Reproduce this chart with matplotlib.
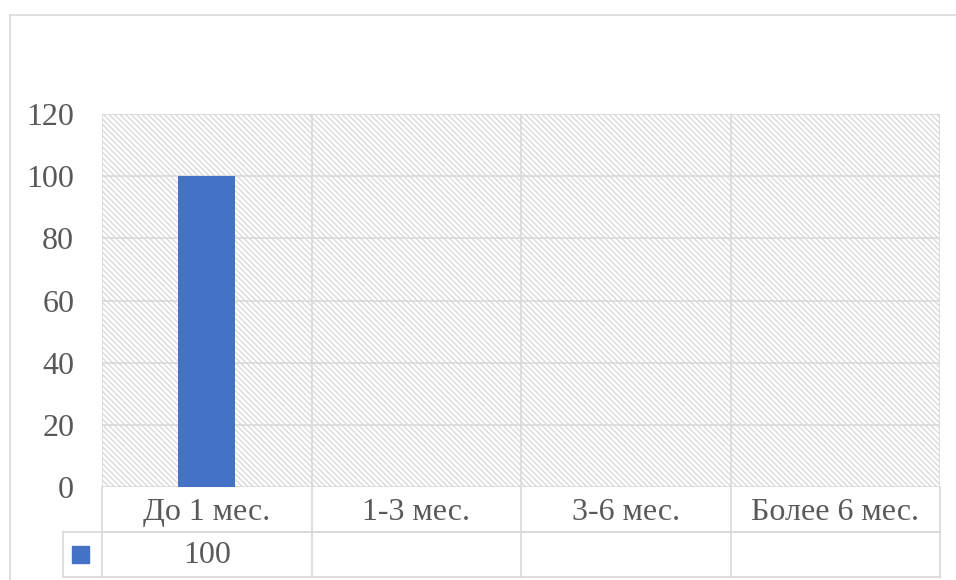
import matplotlib
matplotlib.use('Agg')
import matplotlib.pyplot as plt
from matplotlib.patches import Rectangle
from matplotlib.lines import Line2D

categories = ['До 1 мес.', '1-3 мес.', '3-6 мес.', 'Более 6 мес.']
values = [100, None, None, None]
yticks = [0, 20, 40, 60, 80, 100, 120]

W, H = 956, 580
grey = '#d9d9d9'
txt = '#595959'
blue = '#4472c4'

plt.rcParams['font.family'] = ['Liberation Serif', 'DejaVu Serif']
plt.rcParams['hatch.color'] = '#d3d3d3'
plt.rcParams['hatch.linewidth'] = 0.8

fig = plt.figure(figsize=(W / 100, H / 100), dpi=100)

# plot area in pixel coordinates (from top-left)
x0, x1 = 102, 940
ytop, ybot = 114, 487
ax = fig.add_axes([x0 / W, (H - ybot) / H, (x1 - x0) / W, (ybot - ytop) / H])

# hatched background
ax.add_patch(Rectangle((0, 0), 1, 1, transform=ax.transAxes, facecolor='white',
                       hatch='\\\\\\\\\\\\', edgecolor='#d3d3d3', lw=0, zorder=0))

n = len(categories)
pos = [i + 0.5 for i in range(n)]
hts = [v if v is not None else 0 for v in values]
ax.bar(pos, hts, width=0.27, color=blue, zorder=3)

ax.set_xlim(0, n)
ax.set_ylim(0, 120)
ax.set_yticks(yticks)
ax.set_yticklabels([str(t) for t in yticks], fontsize=23, color=txt)
ax.tick_params(axis='y', length=0, pad=20)
ax.set_xticks([])
for y in yticks:
    ax.axhline(y, color=grey, lw=1.2, zorder=1)
for i in range(n + 1):
    ax.axvline(i, color=grey, lw=1.2, zorder=1)
for s in ax.spines.values():
    s.set_visible(False)


def fx(px):
    return px / W


def fy(py):
    return (H - py) / H


def hline(xa, xb, y):
    fig.add_artist(Line2D([fx(xa), fx(xb)], [fy(y), fy(y)], color=grey, lw=1.2))


def vline(x, ya, yb):
    fig.add_artist(Line2D([fx(x), fx(x)], [fy(ya), fy(yb)], color=grey, lw=1.2))


# data table below the plot
row1, row2 = 532, 577
leg_x = 63
colw = (x1 - x0) / n
hline(x0, x1, row1)
hline(leg_x, x1, row1)
hline(leg_x, x1, row2)
vline(leg_x, row1, row2)
for i in range(n + 1):
    vline(x0 + i * colw, ybot, row2)
for i, c in enumerate(categories):
    fig.text(fx(x0 + (i + 0.5) * colw), fy((ybot + row1) / 2 + 3), c,
             ha='center', va='center', fontsize=23, color=txt)
    if values[i] is not None:
        fig.text(fx(x0 + (i + 0.5) * colw), fy((row1 + row2) / 2 + 1), str(values[i]),
                 ha='center', va='center', fontsize=23, color=txt)
fig.add_artist(Rectangle((fx(72), fy(563)), 17 / W, 17 / H, color=blue))

# outer chart border
hline(10, W, 15)
vline(10, 15, H)

fig.savefig('out.png', dpi=100)
